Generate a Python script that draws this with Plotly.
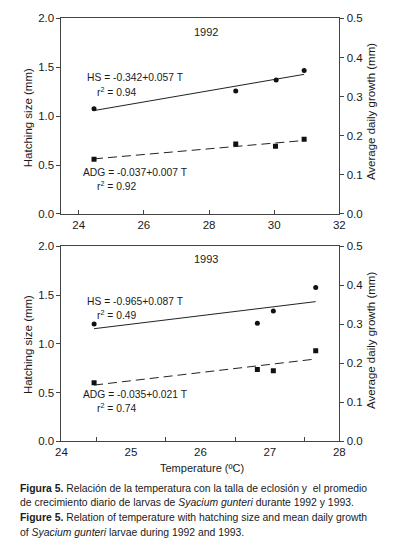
import numpy as np
import plotly.graph_objects as go

# ---- data ----
temp_1992 = [24.47, 28.82, 30.06, 30.92]
hs_1992 = [1.075, 1.258, 1.371, 1.468]
adg_temp_1992 = [24.47, 28.82, 30.04, 30.92]
adg_1992 = [0.140, 0.179, 0.173, 0.191]

temp_1993 = [24.47, 26.82, 27.05, 27.66]
hs_1993 = [1.202, 1.212, 1.336, 1.576]
adg_1993 = [0.150, 0.184, 0.181, 0.232]

eq_1992 = ["HS = -0.342+0.057 T", "r<sup>2</sup> = 0.94", "ADG = -0.037+0.007 T", "r<sup>2</sup> = 0.92"]
eq_1993 = ["HS = -0.965+0.087 T", "r<sup>2</sup> = 0.49", "ADG = -0.035+0.021 T", "r<sup>2</sup> = 0.74"]

# page has an 8px body margin; figure fills the rest of the 394x560 window
OFF = 8
W, H = 394 - 2 * OFF, 560 - 2 * OFF
FONT = "Liberation Sans, Arial, sans-serif"
INK = "#1a1a1a"
AX = "#444444"


def fit(x, y):
    b, a = np.polyfit(x, y, 1)
    xs = np.array([min(x), max(x)])
    return xs, a + b * xs


def px(x):
    return (x - OFF) / W


def py(y):
    return 1 - (y - OFF) / H


fig = go.Figure()

panels = [
    ("x", "y", "y2", temp_1992, hs_1992, adg_temp_1992, adg_1992),
    ("x3", "y3", "y4", temp_1993, hs_1993, temp_1993, adg_1993),
]
for xa, ya, ya2, t, hs, ta, adg in panels:
    fx, fy = fit(t, hs)
    fig.add_trace(go.Scatter(x=fx, y=fy, mode="lines", xaxis=xa, yaxis=ya,
                             line=dict(color="#222", width=1), showlegend=False))
    fig.add_trace(go.Scatter(x=t, y=hs, mode="markers", xaxis=xa, yaxis=ya,
                             marker=dict(symbol="circle", size=5, color="#111"), showlegend=False))
    fx, fy = fit(ta, adg)
    fig.add_trace(go.Scatter(x=fx, y=fy, mode="lines", xaxis=xa, yaxis=ya2,
                             line=dict(color="#222", width=1, dash="9px,5px"), showlegend=False))
    fig.add_trace(go.Scatter(x=ta, y=adg, mode="markers", xaxis=xa, yaxis=ya2,
                             marker=dict(symbol="square", size=5, color="#111"), showlegend=False))

xdom = [px(57), px(344)]
top_dom = [py(212.5), py(12.5)]
bot_dom = [py(445), py(245.5)]

TICKFONT = dict(family=FONT, size=11.5, color=INK)
common = dict(showgrid=False, zeroline=False, showline=True, linecolor=AX, linewidth=1,
              tickfont=TICKFONT, tickcolor=AX)

fig.update_layout(
    width=W, height=H, margin=dict(l=0, r=0, t=0, b=0),
    paper_bgcolor="white", plot_bgcolor="white",
    font=dict(family=FONT, color=INK),
    xaxis=dict(domain=xdom, anchor="y", range=[23.47, 32], tickvals=[24, 26, 28, 30, 32],
               ticks="inside", ticklen=4, mirror=True, **common),
    yaxis=dict(domain=top_dom, anchor="x", range=[0, 2.0], tickvals=[0, 0.5, 1.0, 1.5, 2.0],
               tickformat=".1f", ticks="outside", ticklen=4, mirror=True, **common),
    yaxis2=dict(overlaying="y", anchor="x", side="right", range=[0, 0.5],
                tickvals=[0, 0.1, 0.2, 0.3, 0.4, 0.5], tickformat=".1f",
                ticks="outside", ticklen=4, **common),
    xaxis3=dict(domain=xdom, anchor="y3", range=[24, 28], tickvals=[24, 25, 26, 27, 28],
                ticks="", mirror=True,
                minor=dict(tick0=24.5, dtick=1, ticks="inside", ticklen=4, tickcolor=AX),
                **common),
    yaxis3=dict(domain=bot_dom, anchor="x3", range=[0, 2.0], tickvals=[0, 0.5, 1.0, 1.5, 2.0],
                tickformat=".1f", ticks="outside", ticklen=4, mirror=True, **common),
    yaxis4=dict(overlaying="y3", anchor="x3", side="right", range=[0, 0.5],
                tickvals=[0, 0.1, 0.2, 0.3, 0.4, 0.5], tickformat=".1f",
                ticks="outside", ticklen=4, **common),
)


def ann(text, x, y, xanchor="left", size=12, angle=0, yanchor="middle"):
    fig.add_annotation(text=text, x=px(x), y=py(y), xref="paper", yref="paper",
                       xanchor=xanchor, yanchor=yanchor, showarrow=False, textangle=angle,
                       borderpad=0, font=dict(family=FONT, size=size, color=INK))


EQ = 10.3
# panel labels and equations
ann("1992", 206, 26, xanchor="center", size=11)
ann(eq_1992[0], 82, 73, size=EQ)
ann(eq_1992[1], 93, 87, size=EQ)
ann(eq_1992[2], 78, 170, size=EQ)
ann(eq_1992[3], 93, 183, size=EQ)

ann("1993", 206, 259, xanchor="center", size=11)
ann(eq_1993[0], 82, 302, size=EQ)
ann(eq_1993[1], 93, 315, size=EQ)
ann(eq_1993[2], 78, 397, size=EQ)
ann(eq_1993[3], 93, 410, size=EQ)

# axis titles
ann("Hatching size (mm)", 22, 114, xanchor="center", angle=-90, size=11.5)
ann("Average daily growth (mm)", 376, 108, xanchor="center", angle=-90, size=11.5)
ann("Hatching size (mm)", 22, 346, xanchor="center", angle=-90, size=11.5)
ann("Average daily growth (mm)", 376, 342, xanchor="center", angle=-90, size=11.5)
ann("Temperature (ºC)", 202, 472, xanchor="center", size=11)

# caption
CAP = 10.4
ann("<b>Figura 5.</b> Relación de la temperatura con la talla de eclosión y  el promedio", 13, 493, size=CAP)
ann("de crecimiento diario de larvas de <i>Syacium gunteri</i> durante 1992 y 1993.", 13, 508, size=CAP)
ann("<b>Figure 5.</b> Relation of temperature with hatching size and mean daily growth", 13, 523, size=CAP)
ann("of <i>Syacium gunteri</i> larvae during 1992 and 1993.", 13, 538, size=CAP)

fig.write_html("out.html")
